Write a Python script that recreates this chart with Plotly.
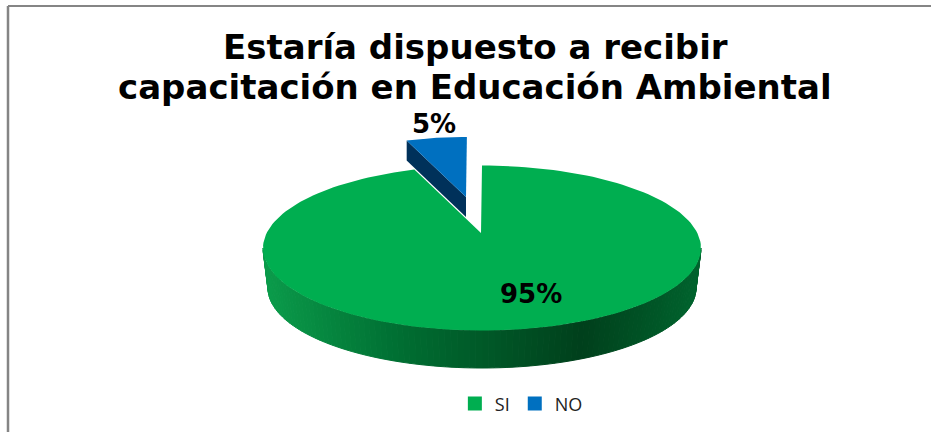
import math
import plotly.graph_objects as go

labels = ["SI", "NO"]
values = [95, 5]
colors = ["#00AE50", "#0070C0"]
title_lines = ["Estaría dispuesto a recibir", "capacitación en Educación Ambiental"]

W, H = 931, 432
CX, CY, RX, RY = 482, 248, 219, 82.5      # top face ellipse
BCX, BCY, BRX, BRY = 482, 288, 214, 80    # bottom rim ellipse
APEX = (481, 233)
NO_APEX = (466, 197)
NO_SCALE = 0.89

fig = go.Figure()
sweep = 360 * values[0] / sum(values)


def top(t):
    r = math.radians(t)
    return CX + RX * math.sin(r), CY - RY * math.cos(r)


def bot(t):
    r = math.radians(t)
    return BCX + BRX * math.sin(r), BCY - BRY * math.cos(r)


def lerp(a, b, f):
    return tuple(a[i] + (b[i] - a[i]) * f for i in range(3))


def rim_color(x):
    stops = [(263, (11, 156, 75)), (400, (0, 110, 50)), (583, (0, 64, 28)), (700, (0, 100, 46))]
    for (x0, c0), (x1, c1) in zip(stops, stops[1:]):
        if x <= x1:
            c = lerp(c0, c1, max(0, (x - x0) / (x1 - x0)))
            return "rgb(%d,%d,%d)" % c
    return "rgb(0,100,46)"


def poly(xs, ys, color, line=True, name=None):
    fig.add_trace(go.Scatter(
        x=xs, y=ys, mode="lines", fill="toself", fillcolor=color,
        line=dict(color=color, width=1 if line else 0),
        showlegend=False, hoverinfo="skip", name=name))


# exploded NO slice: dark cut face, then top face
no_start = sweep
no_pts = []
for i in range(13):
    t = no_start + (360 - no_start) * i / 12
    x, y = top(t)
    no_pts.append((NO_APEX[0] + (x - APEX[0]) * NO_SCALE, NO_APEX[1] + (y - APEX[1]) * NO_SCALE))
DEPTH = 20
left = no_pts[0]
poly([left[0], NO_APEX[0], NO_APEX[0], left[0], left[0]],
     [left[1], NO_APEX[1], NO_APEX[1] + DEPTH, left[1] + DEPTH, left[1]], "#00315A", line=False)
poly([p[0] for p in no_pts] + [NO_APEX[0], no_pts[0][0]],
     [p[1] for p in no_pts] + [NO_APEX[1], no_pts[0][1]], colors[1], line=False, name=labels[1])

# SI slice: rim side drawn in thin vertical strips, then the top face
N = 110
for i in range(N):
    t0 = 90 + 180 * i / N
    t1 = 90 + 180 * (i + 1) / N
    a, b = top(t0), top(t1)
    c, d = bot(t1), bot(t0)
    poly([a[0], b[0], c[0], d[0], a[0]], [a[1], b[1], c[1], d[1], a[1]], rim_color((a[0] + b[0]) / 2))

pts = [top(sweep * i / 180) for i in range(181)]
poly([APEX[0]] + [p[0] for p in pts] + [APEX[0]],
     [APEX[1]] + [p[1] for p in pts] + [APEX[1]], colors[0], line=False, name=labels[0])

# legend entries
for lab, col in zip(labels, colors):
    fig.add_trace(go.Scatter(x=[None], y=[None], mode="markers", name=lab,
                             marker=dict(symbol="square", size=14, color=col)))

# data labels
fig.add_annotation(x=531, y=294, text="<b>%d%%</b>" % values[0], showarrow=False,
                   font=dict(family="DejaVu Sans", size=26, color="black"))
fig.add_annotation(x=434, y=124, text="<b>%d%%</b>" % values[1], showarrow=False,
                   font=dict(family="DejaVu Sans", size=26, color="black"))

# title
fig.add_annotation(x=475, y=47, text="<b>%s</b>" % title_lines[0], showarrow=False,
                   font=dict(family="DejaVu Sans", size=34, color="black"))
fig.add_annotation(x=475, y=87, text="<b>%s</b>" % title_lines[1], showarrow=False,
                   font=dict(family="DejaVu Sans", size=34, color="black"))

# chart frame
fig.add_shape(type="line", x0=8, x1=931, y0=6, y1=6, line=dict(color="#858585", width=2))
fig.add_shape(type="line", x0=8, x1=8, y0=6, y1=432, line=dict(color="#858585", width=2.5))

fig.update_layout(
    width=W, height=H, margin=dict(l=0, r=0, t=0, b=0),
    paper_bgcolor="white", plot_bgcolor="white",
    xaxis=dict(range=[0, W], visible=False, fixedrange=True),
    yaxis=dict(range=[H, 0], visible=False, fixedrange=True),
    legend=dict(orientation="h", x=0.56, xanchor="center", y=0.065, yanchor="middle",
                font=dict(family="Open Sans", size=18, color="#222222"),
                itemwidth=30, bgcolor="rgba(0,0,0,0)"),
)
fig.write_html("out.html", config={"displayModeBar": False},
               post_script="document.body.style.margin='0';document.body.style.overflow='hidden';")
